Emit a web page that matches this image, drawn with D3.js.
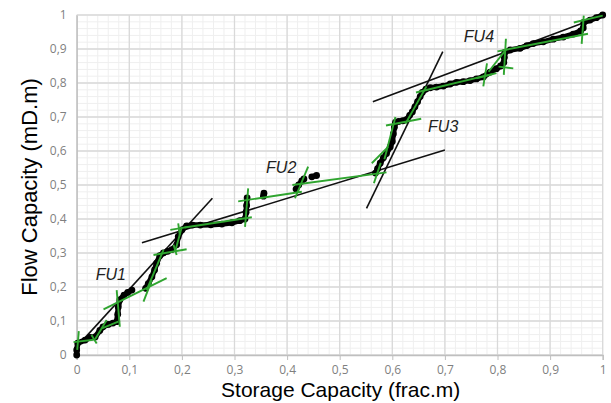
<!DOCTYPE html>
<html>
<head>
<meta charset="utf-8">
<script src="https://cdn.jsdelivr.net/npm/d3@7"></script>
<style>
  body { margin: 0; background: #fff; }
  text { font-family: "Liberation Sans", Arial, sans-serif; }
</style>
</head>
<body>
<div id="chart"></div>
<script>
// chart size and plot area
var width = 611,
    height = 403
var margin = {left: 76.7, right: 8.3, top: 15, bottom: 48}

// tick values and their labels (comma decimals)
var tickValues = [0, 0.1, 0.2, 0.3, 0.4, 0.5, 0.6, 0.7, 0.8, 0.9, 1]
var tickLabels = ["0", "0,1", "0,2", "0,3", "0,4", "0,5", "0,6", "0,7", "0,8", "0,9", "1"]

// measured points (storage capacity, flow capacity), null = gap in the curve
var curveX = [0, 0, 0.002, 0.016, 0.025, 0.035, 0.044, 0.05, 0.06, 0.069, 0.076, 0.078, 0.079, 0.082, 0.09, 0.097, 0.105, null,
  0.131, 0.136, 0.143, 0.148, 0.152, 0.158, 0.165, 0.173, 0.181, 0.19, 0.193, 0.2, 0.209, 0.22, 0.235, 0.255, 0.276, 0.295, 0.31, 0.32, 0.322, 0.323, 0.324, null,
  0.355, 0.356, null,
  0.417, 0.422, 0.428, 0.432, null,
  0.447, 0.456, null,
  0.568, 0.572, 0.577, 0.583, 0.589, 0.596, 0.6, 0.602, 0.604, 0.606, 0.612, 0.62, 0.627, 0.633, 0.638, 0.643, 0.648, 0.653, 0.657, 0.664, 0.672, 0.684, 0.697, 0.71, 0.722, 0.735, 0.748, 0.76, 0.773, 0.786, 0.798, 0.806, 0.812, 0.813, 0.814, 0.824, 0.843, 0.856, 0.868, 0.887, 0.906, 0.925, 0.944, 0.958, 0.963, 0.964, 0.976, 0.988, 1]
var curveY = [0, 0.015, 0.035, 0.044, 0.052, 0.053, 0.072, 0.083, 0.09, 0.094, 0.098, 0.12, 0.141, 0.162, 0.176, 0.184, 0.191, null,
  0.196, 0.21, 0.23, 0.25, 0.27, 0.292, 0.3, 0.305, 0.31, 0.324, 0.348, 0.368, 0.38, 0.382, 0.382, 0.383, 0.385, 0.389, 0.395, 0.4, 0.42, 0.44, 0.462, null,
  0.467, 0.476, null,
  0.488, 0.5, 0.512, 0.518, null,
  0.524, 0.528, null,
  0.535, 0.548, 0.564, 0.58, 0.593, 0.612, 0.628, 0.65, 0.67, 0.684, 0.687, 0.689, 0.692, 0.705, 0.715, 0.73, 0.745, 0.76, 0.772, 0.782, 0.786, 0.788, 0.791, 0.797, 0.802, 0.804, 0.807, 0.812, 0.818, 0.832, 0.842, 0.85, 0.86, 0.875, 0.89, 0.897, 0.902, 0.91, 0.916, 0.921, 0.929, 0.935, 0.944, 0.953, 0.962, 0.978, 0.985, 0.992, 1]

// piecewise fits (green), each [x1, y1, x2, y2]
var greenSegs = [
  [0.001, 0.015, 0.004, 0.07], [-0.006, 0.038, 0.032, 0.045], [0.028, 0.059, 0.038, 0.034],
  [0.035, 0.046, 0.057, 0.103], [0.048, 0.078, 0.079, 0.098], [0.076, 0.191, 0.082, 0.083],
  [0.051, 0.134, 0.171, 0.226], [0.127, 0.157, 0.143, 0.221], [0.133, 0.191, 0.165, 0.309],
  [0.146, 0.294, 0.209, 0.311], [0.184, 0.324, 0.19, 0.294], [0.187, 0.304, 0.2, 0.377],
  [0.178, 0.368, 0.212, 0.377], [0.193, 0.387, 0.196, 0.353], [0.205, 0.375, 0.333, 0.405],
  [0.32, 0.377, 0.326, 0.49], [0.307, 0.452, 0.428, 0.48], [0.415, 0.461, 0.44, 0.554],
  [0.41, 0.5, 0.589, 0.537], [0.565, 0.505, 0.578, 0.565], [0.561, 0.564, 0.592, 0.612],
  [0.585, 0.576, 0.606, 0.7], [0.588, 0.675, 0.655, 0.695], [0.625, 0.68, 0.665, 0.79],
  [0.645, 0.772, 0.79, 0.826], [0.773, 0.79, 0.78, 0.858], [0.76, 0.814, 0.798, 0.829],
  [0.783, 0.833, 0.818, 0.902], [0.812, 0.824, 0.816, 0.93], [0.802, 0.848, 0.83, 0.843],
  [0.8, 0.893, 0.972, 0.945], [0.96, 0.915, 0.964, 0.998], [0.945, 0.978, 1.0, 0.998]
]

// flow unit lines (black)
var fuNames = ["FU1", "FU2", "FU3", "FU4"]
var fuLines = [
  [0.0, 0.024, 0.258, 0.461],
  [0.124, 0.33, 0.70, 0.603],
  [0.551, 0.431, 0.696, 0.892],
  [0.563, 0.745, 0.96, 0.975]
]
var fuLabelX = [0.036, 0.36, 0.668, 0.736]
var fuLabelY = [0.22, 0.535, 0.655, 0.922]

var svg = d3.select("#chart")
  .append("svg")
    .attr("width", width)
    .attr("height", height)

svg.append("rect").attr("width", width).attr("height", height).attr("fill", "#fff")

var x = d3.scaleLinear().domain([0, 1]).range([margin.left, width - margin.right])
var y = d3.scaleLinear().domain([0, 1]).range([height - margin.bottom, margin.top])

// minor grid
var minor = d3.range(0, 51).map(function(i) { return i / 50 })
var grid = svg.append("g")
grid.selectAll(".vminor").data(minor).enter().append("line")
  .attr("x1", function(d) { return x(d) }).attr("x2", function(d) { return x(d) })
  .attr("y1", y(0)).attr("y2", y(1))
  .attr("stroke", "#efefef").attr("stroke-width", 1)
grid.selectAll(".hminor").data(minor).enter().append("line")
  .attr("y1", function(d) { return y(d) }).attr("y2", function(d) { return y(d) })
  .attr("x1", x(0)).attr("x2", x(1))
  .attr("stroke", "#efefef").attr("stroke-width", 1)

// major grid
grid.selectAll(".vmajor").data(tickValues).enter().append("line")
  .attr("x1", function(d) { return x(d) }).attr("x2", function(d) { return x(d) })
  .attr("y1", y(0)).attr("y2", y(1))
  .attr("stroke", "#d9d9d9").attr("stroke-width", 1.3)
grid.selectAll(".hmajor").data(tickValues).enter().append("line")
  .attr("y1", function(d) { return y(d) }).attr("y2", function(d) { return y(d) })
  .attr("x1", x(0)).attr("x2", x(1))
  .attr("stroke", "#d9d9d9").attr("stroke-width", 1.3)

// axes
var xAxis = svg.append("g")
  .attr("transform", "translate(0," + y(0) + ")")
  .call(d3.axisBottom(x).tickValues(tickValues).tickSize(5).tickPadding(5)
    .tickFormat(function(d, i) { return tickLabels[i] }))
var yAxis = svg.append("g")
  .attr("transform", "translate(" + x(0) + ",0)")
  .call(d3.axisLeft(y).tickValues(tickValues).tickSize(0).tickPadding(10)
    .tickFormat(function(d, i) { return tickLabels[i] }))
svg.selectAll(".domain").attr("stroke", "#bfbfbf").attr("stroke-width", 1.3)
svg.selectAll(".tick line").attr("stroke", "#bfbfbf")
svg.selectAll(".tick text")
  .attr("fill", "#7f7f7f")
  .style("font-family", "'Open Sans', sans-serif")
  .style("font-size", "12px")

// black fitted lines for each flow unit
svg.append("g").selectAll("line").data(fuLines).enter().append("line")
  .attr("x1", function(d) { return x(d[0]) }).attr("y1", function(d) { return y(d[1]) })
  .attr("x2", function(d) { return x(d[2]) }).attr("y2", function(d) { return y(d[3]) })
  .attr("stroke", "#111").attr("stroke-width", 1.6)

// the measured curve
var pts = curveX.map(function(d, i) { return [d, curveY[i]] })
var line = d3.line()
  .defined(function(d) { return d[0] !== null })
  .x(function(d) { return x(d[0]) })
  .y(function(d) { return y(d[1]) })
svg.append("path")
  .datum(pts)
  .attr("d", line)
  .attr("fill", "none")
  .attr("stroke", "#000")
  .attr("stroke-width", 5.5)
  .attr("stroke-linejoin", "round")
  .attr("stroke-linecap", "round")
svg.append("g").selectAll("circle").data(pts.filter(function(d) { return d[0] !== null })).enter()
  .append("circle")
  .attr("cx", function(d) { return x(d[0]) })
  .attr("cy", function(d) { return y(d[1]) })
  .attr("r", 3.4)
  .attr("fill", "#000")

// green piecewise fits
svg.append("g").selectAll("line").data(greenSegs).enter().append("line")
  .attr("x1", function(d) { return x(d[0]) }).attr("y1", function(d) { return y(d[1]) })
  .attr("x2", function(d) { return x(d[2]) }).attr("y2", function(d) { return y(d[3]) })
  .attr("stroke", "#2fa52f").attr("stroke-width", 1.9)

// flow unit labels
svg.append("g").selectAll("text").data(fuNames).enter().append("text")
  .attr("x", function(d, i) { return x(fuLabelX[i]) })
  .attr("y", function(d, i) { return y(fuLabelY[i]) })
  .attr("font-size", 16)
  .attr("font-style", "italic")
  .attr("fill", "#222")
  .text(function(d) { return d })

// axis titles
svg.append("text")
  .attr("x", (x(0) + x(1)) / 2 + 1)
  .attr("y", 397)
  .attr("text-anchor", "middle")
  .attr("font-size", 21)
  .attr("fill", "#000")
  .text("Storage Capacity (frac.m)")
svg.append("text")
  .attr("transform", "translate(37," + (y(0.5) + 2) + ") rotate(-90)")
  .attr("text-anchor", "middle")
  .attr("font-size", 22)
  .attr("fill", "#000")
  .text("Flow Capacity (mD.m)")
</script>
</body>
</html>
